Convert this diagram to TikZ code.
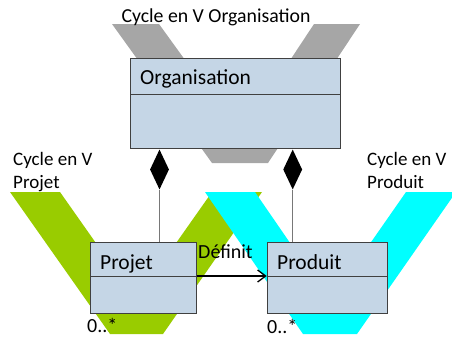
\documentclass[tikz,border=0pt]{standalone}
\usepackage{fontspec}
\setmainfont{Carlito}
\usetikzlibrary{shapes.geometric,arrows.meta}
\definecolor{vgray}{RGB}{166,166,166}
\definecolor{vgreen}{RGB}{153,204,0}
\definecolor{vcyan}{RGB}{0,255,255}
\definecolor{boxfill}{RGB}{197,214,230}
\definecolor{boxline}{RGB}{64,64,64}
\definecolor{assocline}{RGB}{120,120,120}
\begin{document}
\begin{tikzpicture}[x=1pt,y=-1pt,
  font=\fontsize{19}{23}\selectfont,
  umlbox/.style={draw=boxline, fill=boxfill, line width=1pt, rectangle, inner sep=0pt, anchor=north west},
  lbl/.style={anchor=base west, inner sep=0pt},
  boxlbl/.style={anchor=base west, inner sep=0pt, font=\fontsize{21.5}{25}\selectfont},
  midlbl/.style={anchor=base west, inner sep=0pt, font=\fontsize{20}{24}\selectfont},
  comp/.style={diamond, fill=black, draw=none, minimum width=19pt, minimum height=40pt, inner sep=0pt, anchor=north},
  assoc/.style={draw=assocline, line width=1pt},
  divider/.style={draw=boxline, line width=1pt}]
\useasboundingbox (0,0) rectangle (452,340);
% V cycles
\fill[vgray] (112,24) -- (159,24) -- (240,136) -- (314,24) -- (360,24) -- (268,163) -- (212,163) -- cycle;
\fill[vgreen] (10,192) -- (60,192) -- (136,300) -- (212,192) -- (262,192) -- (163,334) -- (110,334) -- cycle;
\fill[vcyan] (205,192) -- (255,192) -- (330,301) -- (406,192) -- (456,192) -- (357,334) -- (303,334) -- cycle;
% labels
\node[anchor=base, inner sep=0pt, font=\fontsize{19.8}{24}\selectfont] (torg) at (216,22) {Cycle en V Organisation};
\node[lbl] (tproj1) at (13,165) {Cycle en V};
\node[lbl] (tproj2) at (13,188) {Projet};
\node[lbl] (tprod1) at (367,165) {Cycle en V};
\node[lbl] (tprod2) at (367,188) {Produit};
% boxes
\node[umlbox, minimum width=210pt, minimum height=90.6pt] (org) at (130,57.7) {};
\draw[divider] (org.west |- 0,94.3) -- (org.east |- 0,94.3);
\node[boxlbl] (orgname) at (140,84) {Organisation};
\node[umlbox, minimum width=106pt, minimum height=71.6pt] (proj) at (90,241.7) {};
\draw[divider] (proj.west |- 0,276) -- (proj.east |- 0,276);
\node[boxlbl] (projname) at (100,269) {Projet};
\node[umlbox, minimum width=120pt, minimum height=71.6pt] (prod) at (266.7,241.7) {};
\draw[divider] (prod.west |- 0,276) -- (prod.east |- 0,276);
\node[boxlbl] (prodname) at (277,269) {Produit};
% compositions
\node[comp] (d1) at (org.south -| 159.5,0) {};
\node[comp] (d2) at (org.south -| 292.7,0) {};
\draw[assoc] (d1.south) -- (d1.south |- proj.north);
\draw[assoc] (d2.south) -- (d2.south |- prod.north);
% association
\draw[line width=1.3pt, -{Straight Barb[length=8pt,width=12pt,line width=1.3pt]}] (proj.east |- 0,276) -- (prod.west |- 0,276);
\node[midlbl] (def) at (198,258) {Définit};
\node[midlbl] (m1) at (87,332) {0..*};
\node[midlbl] (m2) at (267,333) {0..*};
\end{tikzpicture}
\end{document}
